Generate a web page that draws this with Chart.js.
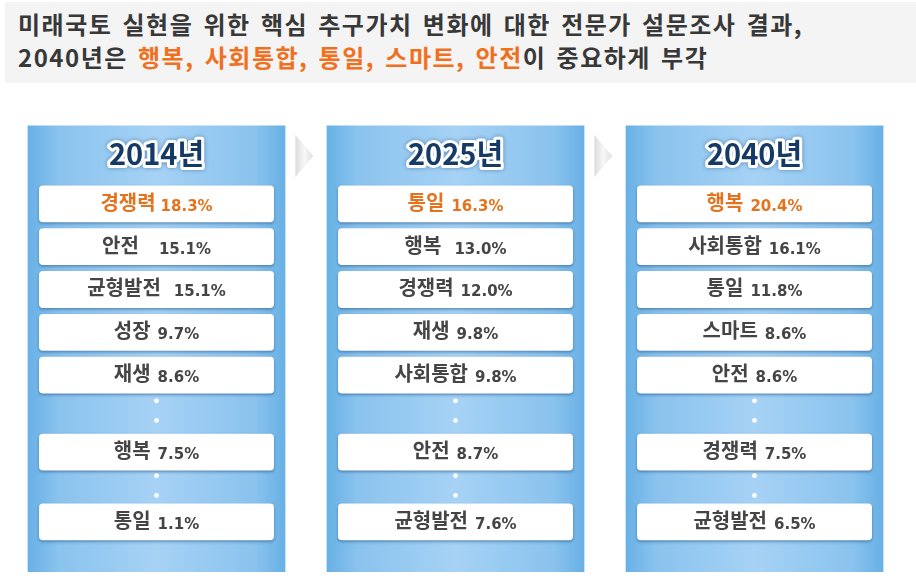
<!DOCTYPE html>
<html lang="ko">
<head>
<meta charset="utf-8">
<title>미래국토 핵심 추구가치 변화</title>
<script src="https://cdn.jsdelivr.net/npm/chart.js@4.4.1/dist/chart.umd.min.js"></script>
<style>
  html, body { margin: 0; padding: 0; background: #ffffff; }
  body { width: 916px; height: 579px; position: relative; overflow: hidden; }
  #title {
    position: absolute; left: 5px; top: 2px; width: 911px; height: 81px;
    background: #f4f4f4; box-sizing: border-box; padding: 5px 0 0 13px;
    font-family: 'Noto Sans CJK KR', sans-serif; font-weight: 700;
    font-size: 24px; line-height: 33px; color: #383838;
    letter-spacing: 1.5px; word-spacing: 2px; white-space: nowrap;
  }
  #title .hl { color: #f0701e; }
  #chart-box { position: absolute; left: 3px; top: 95px; width: 905px; height: 484px; }
</style>
</head>
<body>
<div id="title">
  <div>미래국토 실현을 위한 핵심 추구가치 변화에 대한 전문가 설문조사 결과,</div>
  <div>2040년은 <span class="hl">행복, 사회통합, 통일, 스마트, 안전</span>이 중요하게 부각</div>
</div>
<div id="chart-box"><canvas id="my-chart"></canvas></div>
<script>
'use strict';

// ************** Data ***************

let years = ['2014년', '2025년', '2040년'];

let names2014 = ['경쟁력', '안전', '균형발전', '성장', '재생', '행복', '통일'];
let values2014 = [18.3, 15.1, 15.1, 9.7, 8.6, 7.5, 1.1];

let names2025 = ['통일', '행복', '경쟁력', '재생', '사회통합', '안전', '균형발전'];
let values2025 = [16.3, 13.0, 12.0, 9.8, 9.8, 8.7, 7.6];

let names2040 = ['행복', '사회통합', '통일', '스마트', '안전', '경쟁력', '균형발전'];
let values2040 = [20.4, 16.1, 11.8, 8.6, 8.6, 7.5, 6.5];

let allNames = [names2014, names2025, names2040];
let allValues = [values2014, values2025, values2040];

// ************** Layout (row slots, not data) ***************

let rowSlots = [0, 1, 2, 3, 4, 5.8, 7.43];
let boxHeight = 0.86;
let dotSlots = [5.03, 5.49, 6.78, 7.24];
let columnTop = -1.4;
let columnBottom = 9.03;
let headerSlot = -0.69;
// pixel gap between name and percent (original has wider gaps on a few rows)
let gaps = [[5, 20, 13, 7, 7, 7, 7], [7, 13, 7, 7, 7, 7, 7], [7, 7, 7, 7, 7, 7, 7]];

let columnPct = 0.862;
let boxPct = 0.786;

// ************** Datasets ***************

function columnGradient(context) {
  let chart = context.chart;
  if (!chart.chartArea) {
    return '#8cc6ef';
  }
  let xScale = chart.scales.x;
  let cx = xScale.getPixelForValue(context.dataIndex);
  let half = (xScale.width / years.length) * columnPct / 2;
  let g = chart.ctx.createLinearGradient(cx - half, 0, cx + half, 0);
  g.addColorStop(0, '#68b0e5');
  g.addColorStop(0.12, '#8ac3ee');
  g.addColorStop(0.5, '#a6d2f5');
  g.addColorStop(0.88, '#8ac3ee');
  g.addColorStop(1, '#68b0e5');
  return g;
}

let datasets = [];

datasets.push({
  type: 'bar',
  label: 'column',
  data: years.map(() => [columnTop, columnBottom]),
  backgroundColor: columnGradient,
  grouped: false,
  categoryPercentage: 1,
  barPercentage: columnPct,
  order: 3
});

for (let r = 0; r < rowSlots.length; r++) {
  datasets.push({
    type: 'bar',
    label: 'row' + r,
    data: years.map(() => [rowSlots[r], rowSlots[r] + boxHeight]),
    backgroundColor: '#ffffff',
    borderRadius: 4,
    borderSkipped: false,
    grouped: false,
    categoryPercentage: 1,
    barPercentage: boxPct,
    order: 2,
    isBox: true,
    rowIndex: r
  });
}

let dotData = [];
for (let c = 0; c < years.length; c++) {
  for (let d = 0; d < dotSlots.length; d++) {
    dotData.push({ x: years[c], y: dotSlots[d] });
  }
}

datasets.push({
  type: 'line',
  label: 'dots',
  data: dotData,
  showLine: false,
  pointRadius: 2.4,
  pointBorderWidth: 0,
  pointBackgroundColor: '#ffffff',
  order: 1
});

// ************** Plugins ***************

let boxShadow = {
  id: 'boxShadow',
  beforeDatasetDraw(chart, args) {
    if (chart.data.datasets[args.index].isBox) {
      chart.ctx.save();
      chart.ctx.shadowColor = 'rgba(30, 80, 130, 0.55)';
      chart.ctx.shadowBlur = 3;
      chart.ctx.shadowOffsetY = 1.5;
    }
  },
  afterDatasetDraw(chart, args) {
    if (chart.data.datasets[args.index].isBox) {
      chart.ctx.restore();
    }
  }
};

let decorations = {
  id: 'decorations',
  afterDatasetsDraw(chart) {
    let ctx = chart.ctx;
    let xScale = chart.scales.x;
    let yScale = chart.scales.y;
    let catWidth = xScale.width / years.length;

    // year headers
    let hy = yScale.getPixelForValue(headerSlot);
    ctx.save();
    ctx.font = 'bold 29px "Noto Sans CJK KR"';
    ctx.textAlign = 'center';
    ctx.textBaseline = 'middle';
    ctx.lineJoin = 'round';
    for (let c = 0; c < years.length; c++) {
      let cx = xScale.getPixelForValue(c);
      ctx.shadowColor = 'rgba(20, 60, 110, 0.45)';
      ctx.shadowBlur = 4;
      ctx.lineWidth = 6;
      ctx.strokeStyle = '#ffffff';
      ctx.strokeText(years[c], cx, hy - 2);
      ctx.shadowBlur = 0;
      ctx.shadowColor = 'transparent';
      ctx.fillStyle = '#163a66';
      ctx.fillText(years[c], cx, hy - 2);
    }
    ctx.restore();

    // chevrons between columns
    for (let c = 0; c < years.length - 1; c++) {
      let left = xScale.getPixelForValue(c) + catWidth * columnPct / 2 + 10;
      let right = left + 18;
      let top = yScale.getPixelForValue(headerSlot) - 21;
      let bottom = top + 42;
      let g = ctx.createLinearGradient(left, 0, right, 0);
      g.addColorStop(0, '#dcdcdc');
      g.addColorStop(0.5, '#f7f7f7');
      g.addColorStop(1, '#e0e0e0');
      ctx.save();
      ctx.beginPath();
      ctx.moveTo(left, top);
      ctx.lineTo(right, (top + bottom) / 2);
      ctx.lineTo(left, bottom);
      ctx.closePath();
      ctx.fillStyle = g;
      ctx.fill();
      ctx.restore();
    }

    // labels in the boxes
    ctx.save();
    ctx.textBaseline = 'alphabetic';
    ctx.textAlign = 'left';
    chart.data.datasets.forEach((ds, di) => {
      if (!ds.isBox) {
        return;
      }
      let meta = chart.getDatasetMeta(di);
      meta.data.forEach((bar, c) => {
        let r = ds.rowIndex;
        let name = allNames[c][r];
        let pct = allValues[c][r].toFixed(1) + '%';
        let color = r === 0 ? '#e5721c' : '#454545';
        let midY = (bar.y + bar.base) / 2;
        ctx.font = 'bold 20px "Noto Sans CJK KR"';
        let nameW = ctx.measureText(name).width;
        ctx.font = 'bold 15px "DejaVu Sans"';
        let pctW = ctx.measureText(pct).width;
        let gap = gaps[c][r];
        let startX = bar.x - (nameW + gap + pctW) / 2;
        ctx.fillStyle = color;
        ctx.font = 'bold 20px "Noto Sans CJK KR"';
        ctx.fillText(name, startX, midY + 6);
        ctx.font = 'bold 15px "DejaVu Sans"';
        ctx.fillText(pct, startX + nameW + gap, midY + 7);
      });
    });
    ctx.restore();
  }
};

// ************** Chart ***************

let ctx = document.getElementById('my-chart').getContext('2d');

new Chart(ctx, {
  type: 'bar',
  data: {
    labels: years,
    datasets: datasets
  },
  options: {
    responsive: true,
    maintainAspectRatio: false,
    animation: false,
    layout: { padding: 0 },
    plugins: {
      legend: { display: false },
      tooltip: { enabled: false },
      title: { display: false }
    },
    scales: {
      x: { display: false, offset: true },
      y: { display: false, min: -2.02, max: 9.10, reverse: true }
    }
  },
  plugins: [boxShadow, decorations]
});
</script>
</body>
</html>
